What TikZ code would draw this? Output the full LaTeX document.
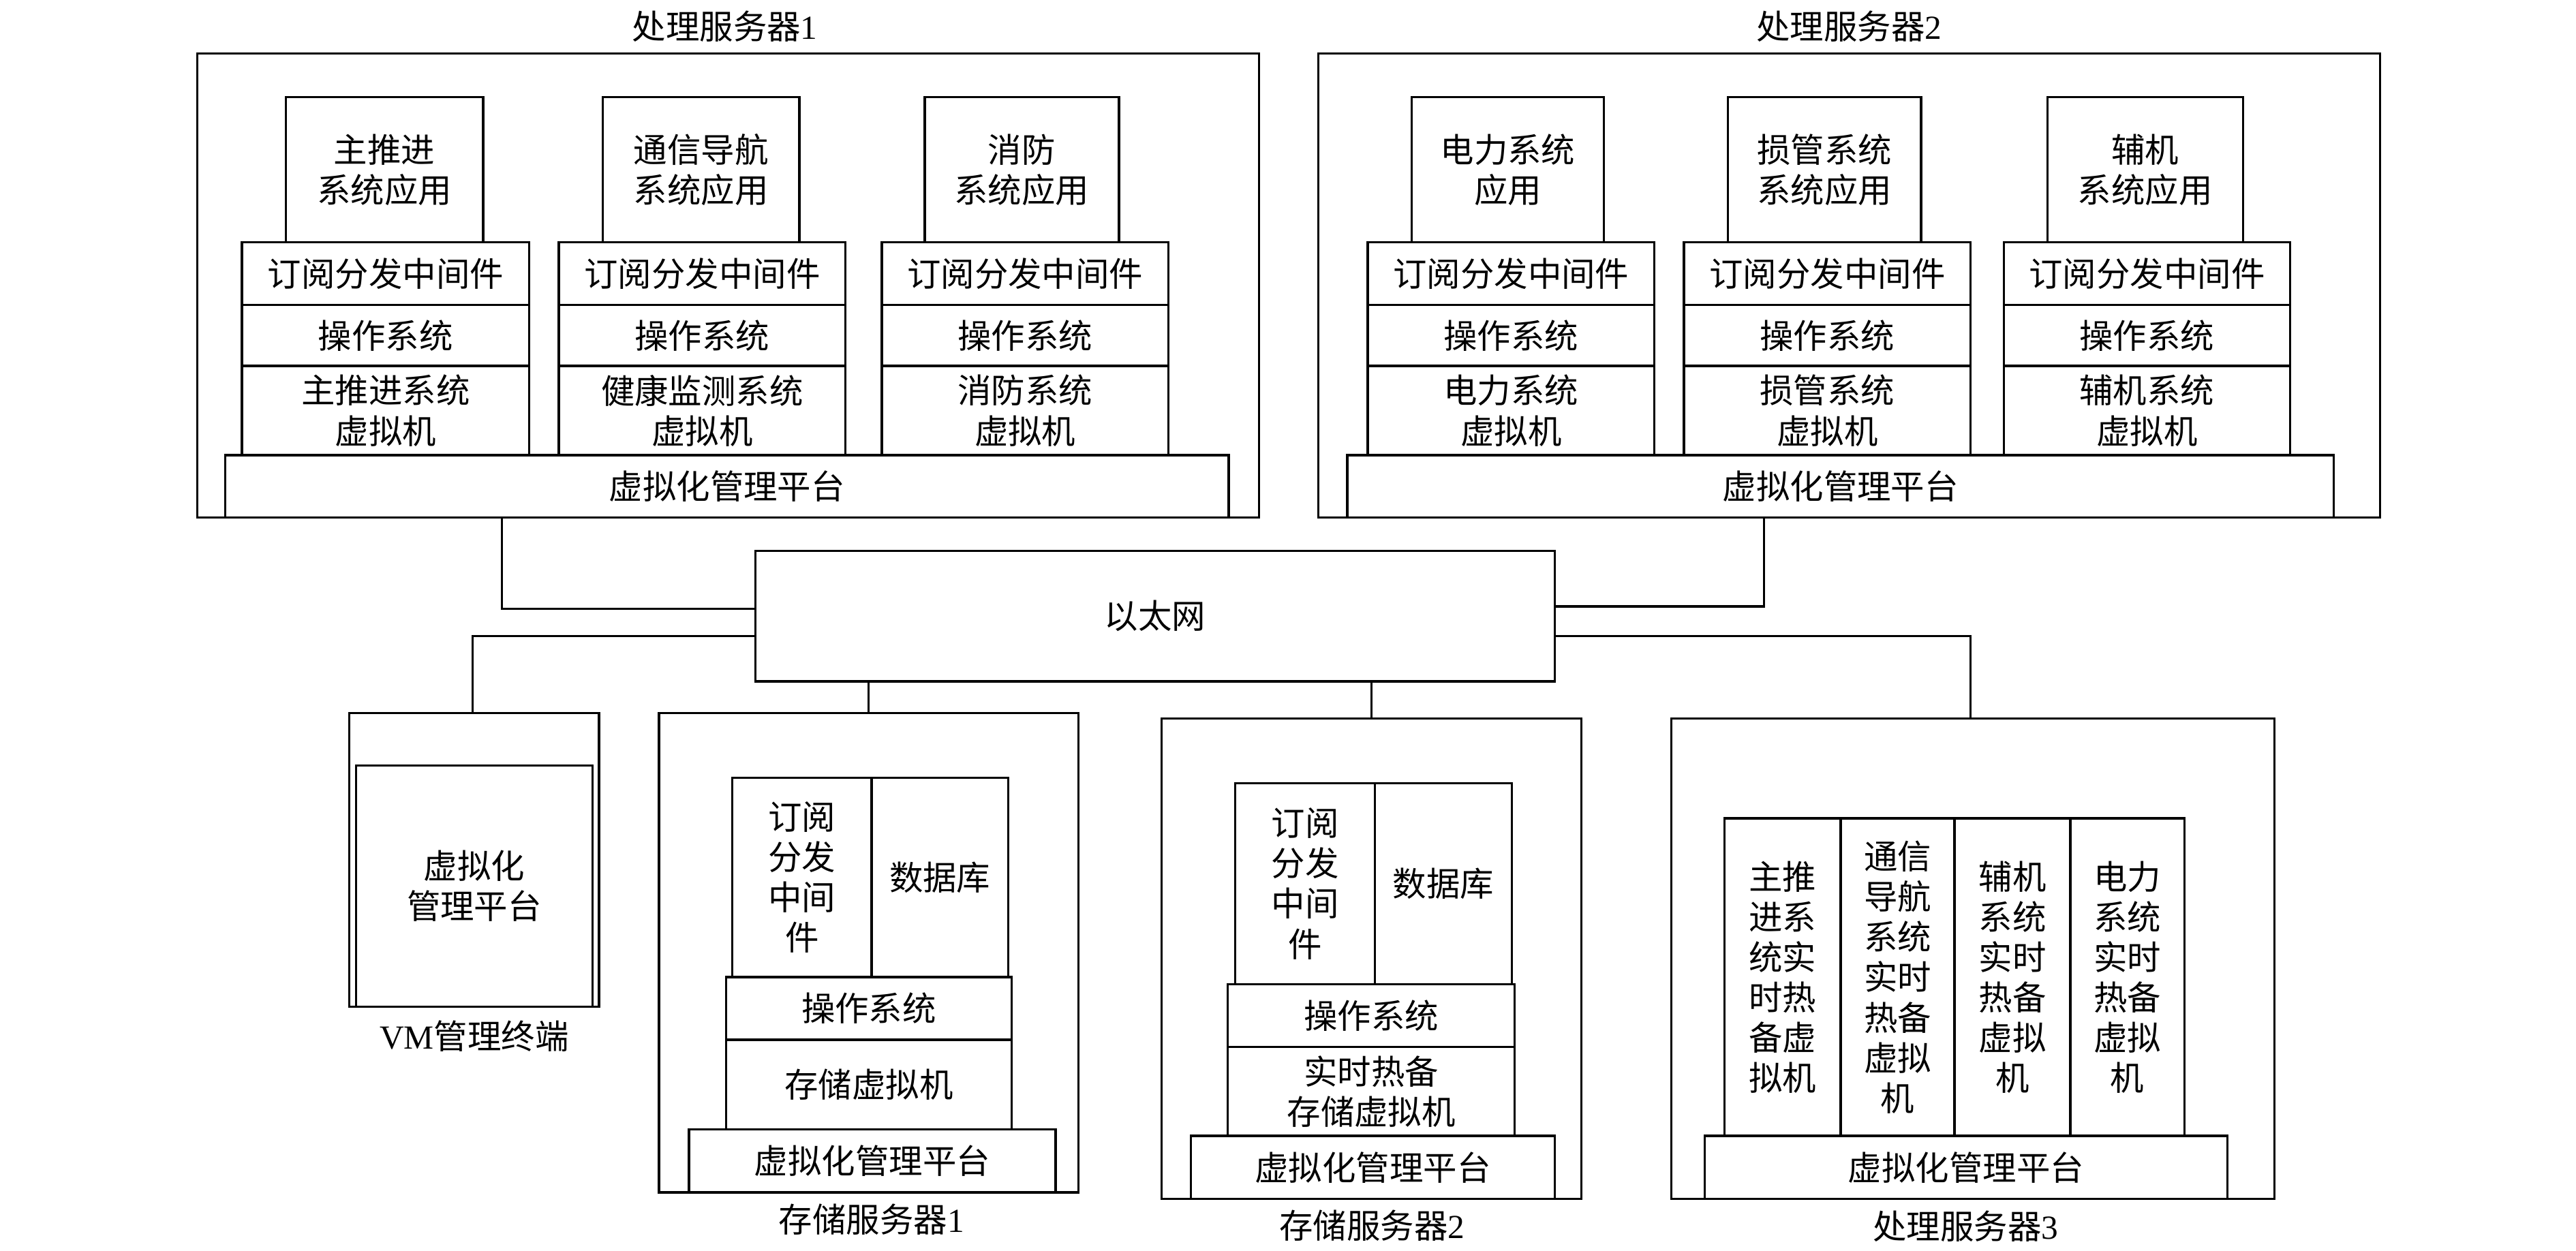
\documentclass[tikz,border=0pt]{standalone}
\usepackage{fontspec}
\setmainfont{Liberation Serif}
\newfontfamily\cjk{Noto Sans CJK SC}
\tikzset{
  box/.style={draw, line width=1.4pt, rectangle, inner sep=0pt, outer sep=0pt, align=center, font=\cjk\fontsize{20.5}{24.5}\selectfont},
  lbl/.style={inner sep=0pt, font=\cjk\fontsize{20.5}{24.5}\selectfont},
  wire/.style={line width=1.4pt},
}
\newcommand{\bx}[7][]{\node[box,#1,minimum width=#5pt-#3pt,minimum height=#6pt-#4pt] (#2) at ({(#3+#5)/2},{(#4+#6)/2}) {#7};}
\begin{document}
\begin{tikzpicture}[x=1pt,y=-1pt]
\useasboundingbox (0,0) rectangle (1567.2,760.8);
% ---------- Server 1 ----------
\bx{s1}{120}{32.5}{766}{315}{}
\bx{s1a1}{173.8}{59.2}{293.9}{147.4}{主推进\\系统应用}
\bx{s1a2}{366.7}{59.2}{486.3}{147.4}{通信导航\\系统应用}
\bx{s1a3}{562.6}{59.2}{680.7}{147.4}{消防\\系统应用}
\bx{s1m1}{147.2}{147.4}{322}{185.5}{订阅分发中间件}
\bx{s1m2}{340}{147.4}{514.4}{185.5}{订阅分发中间件}
\bx{s1m3}{536.5}{147.4}{710.8}{185.5}{订阅分发中间件}
\bx{s1o1}{147.2}{185.5}{322}{222.7}{操作系统}
\bx{s1o2}{340}{185.5}{514.4}{222.7}{操作系统}
\bx{s1o3}{536.5}{185.5}{710.8}{222.7}{操作系统}
\bx{s1v1}{147.2}{222.7}{322}{277}{主推进系统\\虚拟机}
\bx{s1v2}{340}{222.7}{514.4}{277}{健康监测系统\\虚拟机}
\bx{s1v3}{536.5}{222.7}{710.8}{277}{消防系统\\虚拟机}
\bx{s1p}{137.1}{277}{747.5}{315}{虚拟化管理平台}
\node[lbl] (t1) at (441,15.9) {处理服务器{\rmfamily 1}};
% ---------- Server 2 ----------
\bx{s2}{802}{32.5}{1448}{315}{}
\bx{s2a1}{858.8}{59.2}{975.8}{147.4}{电力系统\\应用}
\bx{s2a2}{1051.2}{59.2}{1168.7}{147.4}{损管系统\\系统应用}
\bx{s2a3}{1245.6}{59.2}{1364.6}{147.4}{辅机\\系统应用}
\bx{s2m1}{832.1}{147.4}{1006.5}{185.5}{订阅分发中间件}
\bx{s2m2}{1024.5}{147.4}{1198.9}{185.5}{订阅分发中间件}
\bx{s2m3}{1219}{147.4}{1393.3}{185.5}{订阅分发中间件}
\bx{s2o1}{832.1}{185.5}{1006.5}{222.7}{操作系统}
\bx{s2o2}{1024.5}{185.5}{1198.9}{222.7}{操作系统}
\bx{s2o3}{1219}{185.5}{1393.3}{222.7}{操作系统}
\bx{s2v1}{832.1}{222.7}{1006.5}{277}{电力系统\\虚拟机}
\bx{s2v2}{1024.5}{222.7}{1198.9}{277}{损管系统\\虚拟机}
\bx{s2v3}{1219}{222.7}{1393.3}{277}{辅机系统\\虚拟机}
\bx{s2p}{819.6}{277}{1419.9}{315}{虚拟化管理平台}
\node[lbl] (t2) at (1125,15.9) {处理服务器{\rmfamily 2}};
% ---------- Ethernet ----------
\bx{eth}{459.7}{335.1}{945.8}{414.6}{以太网}
% ---------- VM terminal ----------
\bx{vmo}{212.6}{433.9}{364.5}{612.5}{}
\bx{vmi}{216.7}{465.7}{360.4}{612.5}{虚拟化\\管理平台}
\node[lbl] (t3) at (288.5,630.3) {{\rmfamily VM}管理终端};
% ---------- Storage 1 ----------
\bx{st1}{400.9}{433.9}{656}{725.5}{}
\bx{st1m}{445.6}{473.2}{530.2}{594.6}{订阅\\分发\\中间\\件}
\bx{st1d}{530.2}{473.2}{613.4}{594.6}{数据库}
\bx{st1o}{441.8}{594.6}{615.4}{632.6}{操作系统}
\bx{st1v}{441.8}{632.6}{615.4}{687.2}{存储虚拟机}
\bx{st1p}{419.2}{687.2}{642.2}{725.5}{虚拟化管理平台}
\node[lbl] (t4) at (530.2,741.9) {存储服务器{\rmfamily 1}};
% ---------- Storage 2 ----------
\bx{st2}{706.6}{437.2}{962}{729.4}{}
\bx{st2m}{751.5}{476.6}{836.5}{598.8}{订阅\\分发\\中间\\件}
\bx{st2d}{836.5}{476.6}{919.7}{598.8}{数据库}
\bx{st2o}{747}{598.8}{921.5}{637}{操作系统}
\bx{st2v}{747}{637}{921.5}{691.2}{实时热备\\存储虚拟机}
\bx{st2p}{724.6}{691.2}{945.8}{729.4}{虚拟化管理平台}
\node[lbl] (t5) at (834.7,745.6) {存储服务器{\rmfamily 2}};
% ---------- Server 3 ----------
\bx{s3}{1016.8}{437.2}{1383.7}{729.4}{}
\bx{s3c1}{1049.2}{498}{1119.8}{691.2}{主推\\进系\\统实\\时热\\备虚\\拟机}
\bx{s3c2}{1119.8}{498}{1189.1}{691.2}{通信\\导航\\系统\\实时\\热备\\虚拟\\机}
\bx{s3c3}{1189.1}{498}{1259.6}{691.2}{辅机\\系统\\实时\\热备\\虚拟\\机}
\bx{s3c4}{1259.6}{498}{1328.9}{691.2}{电力\\系统\\实时\\热备\\虚拟\\机}
\bx{s3p}{1037.1}{691.2}{1355}{729.4}{虚拟化管理平台}
\node[lbl] (t6) at (1195.8,746) {处理服务器{\rmfamily 3}};
% ---------- Connectors ----------
\coordinate (j1) at (305.4,370.5);
\draw[wire] (s1.south -| j1) -- (j1) -- (j1 -| eth.west);
\coordinate (j2) at (1073.3,369);
\draw[wire] (s2.south -| j2) -- (j2) -- (j2 -| eth.east);
\coordinate (j3) at (287.5,387);
\draw[wire] (j3 -| eth.west) -- (j3) -- (j3 |- vmo.north);
\coordinate (j4) at (1198.9,387);
\draw[wire] (j4 -| eth.east) -- (j4) -- (j4 |- s3.north);
\coordinate (j5) at (528.5,0);
\draw[wire] (eth.south -| j5) -- (j5 |- st1.north);
\coordinate (j6) at (834.3,0);
\draw[wire] (eth.south -| j6) -- (j6 |- st2.north);
\end{tikzpicture}
\end{document}
